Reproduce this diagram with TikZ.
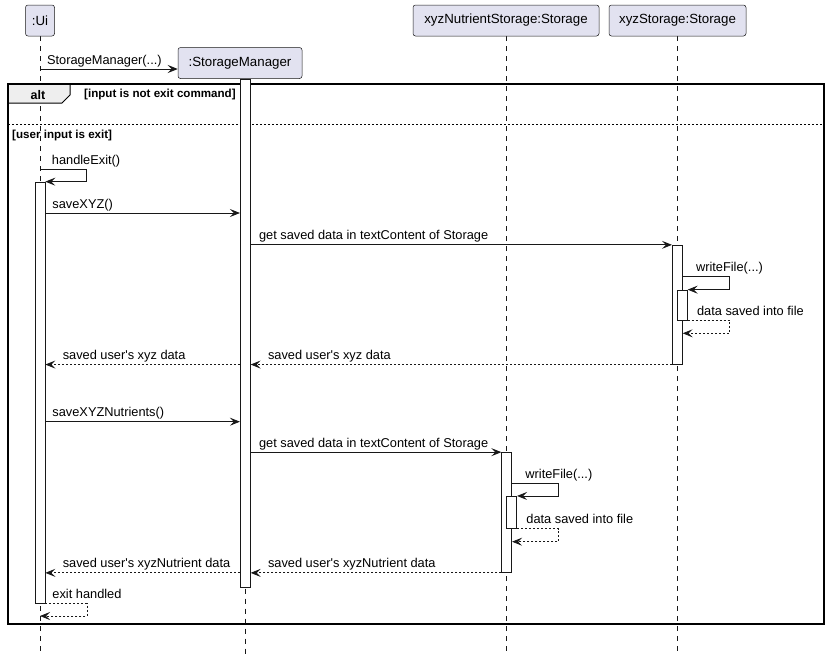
\documentclass[tikz,border=0pt]{standalone}
\usepackage{fontspec}
\setmainfont{Liberation Sans}
\usetikzlibrary{arrows.meta,positioning,backgrounds}
\definecolor{partfill}{HTML}{E2E2F0}
\definecolor{partline}{HTML}{181818}
\definecolor{tabfill}{HTML}{EEEEEE}

\begin{document}
\begin{tikzpicture}[x=1pt, y=-1pt, >={Stealth[length=10pt, width=8pt, inset=4pt]}, font=\fontsize{12.8}{15}\selectfont]
        \tikzset{part/.style={rectangle, draw=partline, line width=0.5pt, rounded corners=2.5pt, fill=partfill, minimum height=31pt, inner sep=0pt, font=\fontsize{13.3}{15}\selectfont}, life/.style={draw=partline, line width=0.5pt, dash pattern=on 5pt off 5pt}, act/.style={rectangle, draw=partline, fill=white, line width=0.7pt, minimum width=10pt, inner sep=0pt}, msg/.style={->, draw=partline, line width=0.8pt}, ret/.style={msg, dash pattern=on 2pt off 2pt}, lbl/.style={anchor=base west, inner sep=0pt, yshift=5pt}, guard/.style={anchor=base west, inner sep=0pt, font=\fontsize{11.6}{13}\selectfont\bfseries}}
        \useasboundingbox (0,0) rectangle (830,654);
        \node[part, minimum width=29pt] (ui) at (40,20.5) {:Ui};
        \node[part, minimum width=124pt] (sm) at (240,63) {:StorageManager};
        \node[part, minimum width=186pt] (nut) at (506,20.5) {xyzNutrientStorage:Storage};
        \node[part, minimum width=137pt] (xyz) at (677.5,20.5) {xyzStorage:Storage};
        \coordinate (bottom) at (0,654);
        \coordinate (rCreate) at (0,69);
        \coordinate (rExit) at (0,169.3);
        \coordinate (rSave) at (0,213);
        \coordinate (rWrite) at (0,276.7);
        \coordinate (rSavedIn) at (0,333.3);
        \coordinate (rSaveNut) at (0,421.7);
        \coordinate (rWriteNut) at (0,483.3);
        \coordinate (rSavedNutIn) at (0,541.7);
        \coordinate (rEnd) at (0,616);
        \node[act, minimum height=421pt] (uiact) at (40,392.5) {};
        \node[act, minimum height=508pt] (smact) at (245.3,333) {};
        \node[act, minimum height=119pt] (xyzact) at (677.3,304.7) {};
        \node[act, minimum height=30pt] (xyzwrite) at (682.3,305) {};
        \node[act, minimum height=120pt] (nutact) at (506.7,512.5) {};
        \node[act, minimum height=32pt] (nutwrite) at (511.7,512.3) {};
        \begin{scope}[on background layer]
        \draw[life] (ui.south) -- (ui |- bottom);
        \draw[life] (smact.north) -- (smact |- bottom);
        \draw[life] (nutact |- nut.south) -- (nutact |- bottom);
        \draw[life] (xyzact |- xyz.south) -- (xyzact |- bottom);
        \draw[fill=tabfill, line width=1pt] (8,84) -- (70,84) -- (70,95) -- (62,103) -- (8,103) -- cycle;
        \draw[line width=1.4pt] (8,84) rectangle (824,624);
        \draw[line width=0.6pt, dash pattern=on 2pt off 2pt] (8,124) -- (824,124);
        \end{scope}
        \node[anchor=base, inner sep=0pt, font=\fontsize{12.5}{14}\selectfont\bfseries] (altlbl) at (38,99) {alt};
        \node[guard] (guard1) at (84,97) {[input is not exit command]};
        \node[guard] (guard2) at (12,138) {[user input is exit]};
        \draw[msg] (ui |- rCreate) -- node[lbl, pos=0, xshift=6.7pt]{StorageManager(...)} (sm.west |- rCreate);
        \draw[msg] (ui |- rExit) -- node[lbl, pos=0, xshift=11.5pt]{handleExit()} ++(46.5,0) |- (uiact.north east);
        \draw[msg] (uiact.east |- rSave) -- node[lbl, pos=0, xshift=6.7pt]{saveXYZ()} (smact.west |- rSave);
        \draw[msg] (smact.east |- xyzact.north) -- node[lbl, pos=0, xshift=8pt]{get saved data in textContent of Storage} (xyzact.north west);
        \draw[msg] (xyzact.east |- rWrite) -- node[lbl, pos=0, xshift=13pt]{writeFile(...)} ++(47,0) |- (xyzwrite.north east);
        \draw[ret] (xyzwrite.south east) -- node[lbl, pos=0, xshift=9pt]{data saved into file} ++(42,0) |- (xyzact.east |- rSavedIn);
        \draw[ret] (xyzact.south west) -- node[lbl, pos=1, xshift=17pt]{saved user\textquotesingle s xyz data} (smact.east |- xyzact.south);
        \draw[ret] (smact.west |- xyzact.south) -- node[lbl, pos=1, xshift=17pt]{saved user\textquotesingle s xyz data} (uiact.east |- xyzact.south);
        \draw[msg] (uiact.east |- rSaveNut) -- node[lbl, pos=0, xshift=6.7pt]{saveXYZNutrients()} (smact.west |- rSaveNut);
        \draw[msg] (smact.east |- nutact.north) -- node[lbl, pos=0, xshift=8pt]{get saved data in textContent of Storage} (nutact.north west);
        \draw[msg] (nutact.east |- rWriteNut) -- node[lbl, pos=0, xshift=13pt]{writeFile(...)} ++(46.6,0) |- (nutwrite.north east);
        \draw[ret] (nutwrite.south east) -- node[lbl, pos=0, xshift=9pt]{data saved into file} ++(41.6,0) |- (nutact.east |- rSavedNutIn);
        \draw[ret] (nutact.south west) -- node[lbl, pos=1, xshift=17pt]{saved user\textquotesingle s xyzNutrient data} (smact.east |- nutact.south);
        \draw[ret] (smact.west |- nutact.south) -- node[lbl, pos=1, xshift=17pt]{saved user\textquotesingle s xyzNutrient data} (uiact.east |- nutact.south);
        \draw[ret] (uiact.south east) -- node[lbl, pos=0, xshift=6.7pt]{exit handled} ++(41.7,0) |- (ui |- rEnd);
    \end{tikzpicture}
\end{document}
